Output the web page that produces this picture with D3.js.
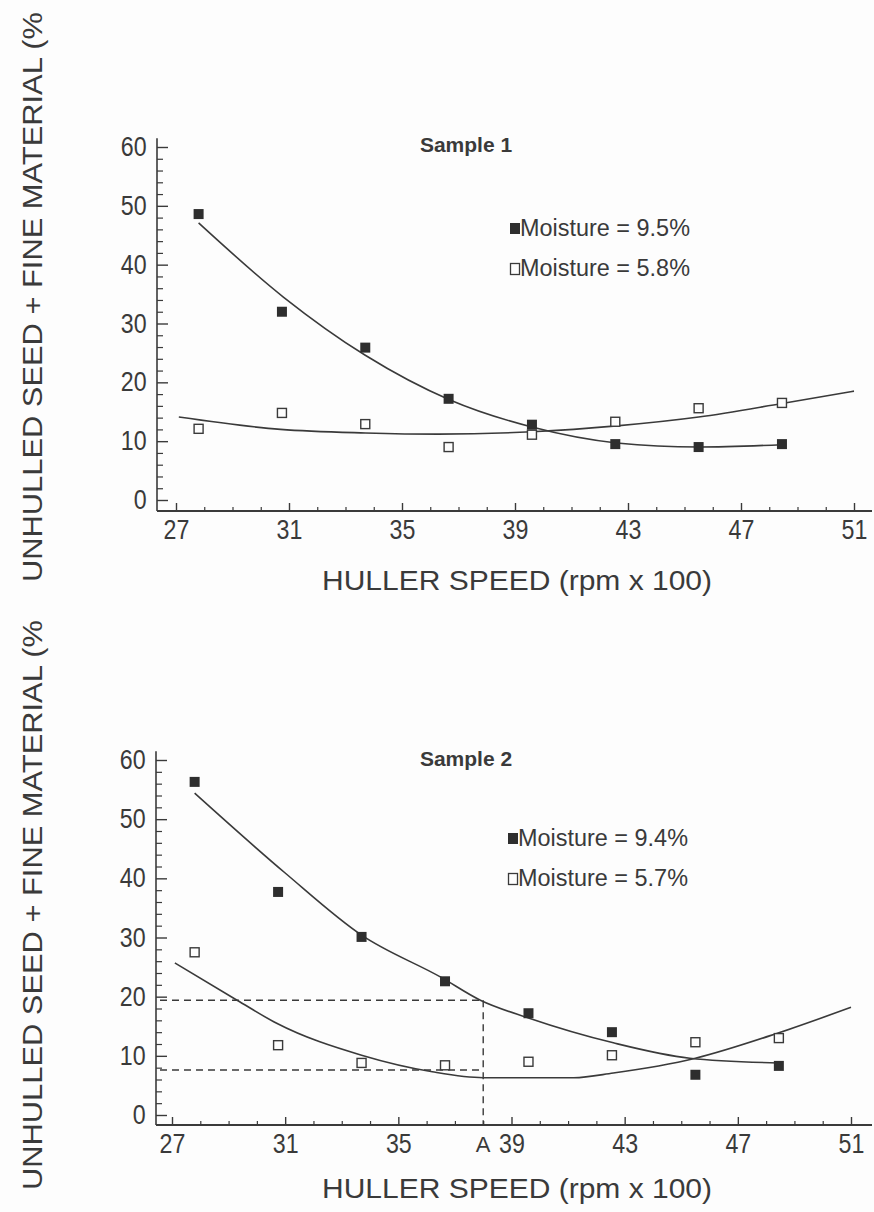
<!DOCTYPE html>
<html><head><meta charset="utf-8">
<script src="https://cdn.jsdelivr.net/npm/d3@7"></script>
<style>
html,body{margin:0;padding:0;background:#fdfdfd;}
svg{display:block;}
text{font-family:"Liberation Sans",Arial,Helvetica,sans-serif;fill:#3a3a3a;}
</style></head>
<body>
<svg id="c" width="874" height="1212"></svg>
<script>
// ---- data ----
const speeds = [27.8, 30.75, 33.7, 36.65, 39.6, 42.55, 45.5, 48.45];
const xTicks = [27, 31, 35, 39, 43, 47, 51];
const yTicks = [0, 10, 20, 30, 40, 50, 60];

// Sample 1
const s1High = [48.6, 32.0, 25.9, 17.2, 12.8, 9.5, 9.0, 9.5];   // Moisture = 9.5%
const s1Low  = [12.1, 14.8, 12.9, 9.0, 11.1, 13.3, 15.6, 16.5]; // Moisture = 5.8%
const s1HighFitX = [27.8, 30.8, 33.7, 36.7, 39.6, 42.6, 45.5, 48.45];
const s1HighFitY = [47.1, 34.5, 24.6, 17.0, 12.4, 9.7, 9.0, 9.4];
const s1LowFitX  = [27.1, 30.7, 33.7, 36.3, 39.6, 42.6, 45.5, 48.45, 51];
const s1LowFitY  = [14.1, 12.0, 11.4, 11.2, 11.6, 12.6, 14.1, 16.4, 18.5];

// Sample 2
const s2High = [56.3, 37.7, 30.1, 22.6, 17.2, 14.0, 6.8, 8.3];  // Moisture = 9.4%
const s2Low  = [27.5, 11.8, 8.8, 8.4, 9.0, 10.1, 12.3, 13.0];   // Moisture = 5.7%
const s2HighFitX = [27.8, 31.0, 33.7, 36.5, 37.9, 39.6, 42.6, 45.3, 48.45];
const s2HighFitY = [54.4, 40.9, 30.4, 23.3, 19.4, 16.4, 12.2, 9.6, 8.8];
const s2LowFitX  = [27.1, 29.3, 30.7, 33.7, 36.2, 38.0, 41.2, 42.6, 45.5, 48.45, 51];
const s2LowFitY  = [25.7, 19.4, 15.5, 10.1, 7.3, 6.3, 6.3, 7.1, 9.6, 13.9, 18.2];
const s2Guide = {x: 38.0, yHigh: 19.4, yLow: 7.6, label: "A"};

const yTitle = "UNHULLED SEED + FINE MATERIAL (%";
const xTitle = "HULLER SPEED (rpm x 100)";

const ink = "#3a3a3a";
const svg = d3.select("#c");

function drawChart(cfg){
  const x = d3.scaleLinear().domain([27,51]).range([cfg.x27, cfg.x51]);
  const y = d3.scaleLinear().domain([0,60]).range([cfg.y0, cfg.y60]);
  const g = svg.append("g");

  // axis lines
  g.append("line").attr("x1",cfg.axX).attr("x2",cfg.axX)
    .attr("y1",cfg.axY).attr("y2",y(61.5)).attr("stroke",ink).attr("stroke-width",1.6);
  g.append("line").attr("x1",cfg.axX).attr("x2",872)
    .attr("y1",cfg.axY).attr("y2",cfg.axY).attr("stroke",ink).attr("stroke-width",1.8);

  // y axis major + minor
  const ya = g.append("g").attr("transform",`translate(${cfg.axX},0)`)
    .call(d3.axisLeft(y).tickValues(yTicks).tickSize(-11).tickPadding(12));
  ya.select(".domain").remove();
  ya.selectAll("line").attr("stroke",ink).attr("stroke-width",1.4);
  ya.selectAll("text").style("font-size","27px").attr("fill",ink)
    .attr("transform","scale(0.86,1)");
  const yMinor = d3.range(2,60,2).filter(v=>v%10!==0);
  const ym = g.append("g").attr("transform",`translate(${cfg.axX},0)`)
    .call(d3.axisLeft(y).tickValues(yMinor).tickSize(-6).tickFormat(""));
  ym.select(".domain").remove();
  ym.selectAll("line").attr("stroke",ink).attr("stroke-width",1.2);

  // x axis major + minor
  const xa = g.append("g").attr("transform",`translate(0,${cfg.axY})`)
    .call(d3.axisBottom(x).tickValues(xTicks).tickSize(-8).tickPadding(9));
  xa.select(".domain").remove();
  xa.selectAll("line").attr("stroke",ink).attr("stroke-width",1.4);
  xa.selectAll("text").style("font-size","27px").attr("fill",ink)
    .attr("transform","scale(0.86,1)");
  const xMinor = d3.range(28,51,1).filter(v=>!xTicks.includes(v));
  const xm = g.append("g").attr("transform",`translate(0,${cfg.axY})`)
    .call(d3.axisBottom(x).tickValues(xMinor).tickSize(-4).tickFormat(""));
  xm.select(".domain").remove();
  xm.selectAll("line").attr("stroke",ink).attr("stroke-width",1.2);

  // titles
  g.append("text").attr("transform",`translate(42,${cfg.yTitleBottom}) rotate(-90)`)
    .attr("text-anchor","start").style("font-size","28px")
    .attr("textLength",570).attr("lengthAdjust","spacingAndGlyphs").text(yTitle);
  g.append("text").attr("x",517).attr("y",cfg.xTitleBase).attr("text-anchor","middle")
    .style("font-size","28px").attr("textLength",390).attr("lengthAdjust","spacingAndGlyphs").text(xTitle);
  g.append("text").attr("x",466).attr("y",cfg.sampleBase).attr("text-anchor","middle")
    .style("font-size","21px").style("font-weight","bold").text(cfg.sample);

  // guide lines
  if(cfg.guide){
    const gd = cfg.guide;
    const dash = {"stroke":ink,"stroke-width":1.4,"stroke-dasharray":"7,5","fill":"none"};
    const addLine = (x1,y1,x2,y2)=>{
      const l = g.append("line").attr("x1",x1).attr("y1",y1).attr("x2",x2).attr("y2",y2);
      Object.entries(dash).forEach(([k,v])=>l.attr(k,v));
    };
    addLine(cfg.axX+4, y(gd.yHigh), x(gd.x), y(gd.yHigh));
    addLine(cfg.axX+4, y(gd.yLow), x(gd.x), y(gd.yLow));
    addLine(x(gd.x), y(gd.yHigh), x(gd.x), cfg.axY);
    g.append("text").attr("x",x(gd.x)).attr("y",cfg.axY+27).attr("text-anchor","middle")
      .style("font-size","22px").attr("fill",ink).text(gd.label);
  }

  // fitted curves
  const line = d3.line().x(d=>x(d[0])).y(d=>y(d[1])).curve(d3.curveMonotoneX);
  [[cfg.hiFitX,cfg.hiFitY],[cfg.loFitX,cfg.loFitY]].forEach(([xs,ys])=>{
    g.append("path").datum(xs.map((v,i)=>[v,ys[i]])).attr("d",line)
      .attr("fill","none").attr("stroke",ink).attr("stroke-width",1.6);
  });

  // markers
  const s = 10;
  g.selectAll(null).data(speeds.map((v,i)=>[v,cfg.lo[i]])).join("rect")
    .attr("x",d=>x(d[0])-s/2+0.5).attr("y",d=>y(d[1])-s/2+0.5)
    .attr("width",s-1).attr("height",s-1)
    .attr("fill","#fdfdfd").attr("stroke",ink).attr("stroke-width",1.4);
  g.selectAll(null).data(speeds.map((v,i)=>[v,cfg.hi[i]])).join("rect")
    .attr("x",d=>x(d[0])-s/2).attr("y",d=>y(d[1])-s/2)
    .attr("width",s).attr("height",s).attr("fill","#2e2e2e");

  // legend
  const L = cfg.legend;
  g.append("rect").attr("x",L.x-10).attr("y",L.b1-13).attr("width",10).attr("height",11).attr("fill","#2e2e2e");
  g.append("text").attr("x",L.x).attr("y",L.b1).style("font-size","23px")
    .attr("textLength",170).attr("lengthAdjust","spacingAndGlyphs").text(L.t1);
  g.append("rect").attr("x",L.x-9.5).attr("y",L.b2-12.5).attr("width",9).attr("height",11)
    .attr("fill","none").attr("stroke",ink).attr("stroke-width",1.3);
  g.append("text").attr("x",L.x).attr("y",L.b2).style("font-size","23px")
    .attr("textLength",170).attr("lengthAdjust","spacingAndGlyphs").text(L.t2);
}

drawChart({
  x27:176, x51:854, y0:500, y60:147, axX:157, axY:511,
  yTitleBottom:582, xTitleBase:590, sampleBase:152, sample:"Sample 1",
  hi:s1High, lo:s1Low, hiFitX:s1HighFitX, hiFitY:s1HighFitY, loFitX:s1LowFitX, loFitY:s1LowFitY,
  legend:{x:520, b1:236, b2:276, t1:"Moisture = 9.5%", t2:"Moisture = 5.8%"}
});
drawChart({
  x27:172, x51:851, y0:1115, y60:760, axX:156, axY:1125,
  yTitleBottom:1190, xTitleBase:1198, sampleBase:766, sample:"Sample 2",
  hi:s2High, lo:s2Low, hiFitX:s2HighFitX, hiFitY:s2HighFitY, loFitX:s2LowFitX, loFitY:s2LowFitY,
  guide:s2Guide,
  legend:{x:518, b1:846, b2:886, t1:"Moisture = 9.4%", t2:"Moisture = 5.7%"}
});
</script>
</body></html>
